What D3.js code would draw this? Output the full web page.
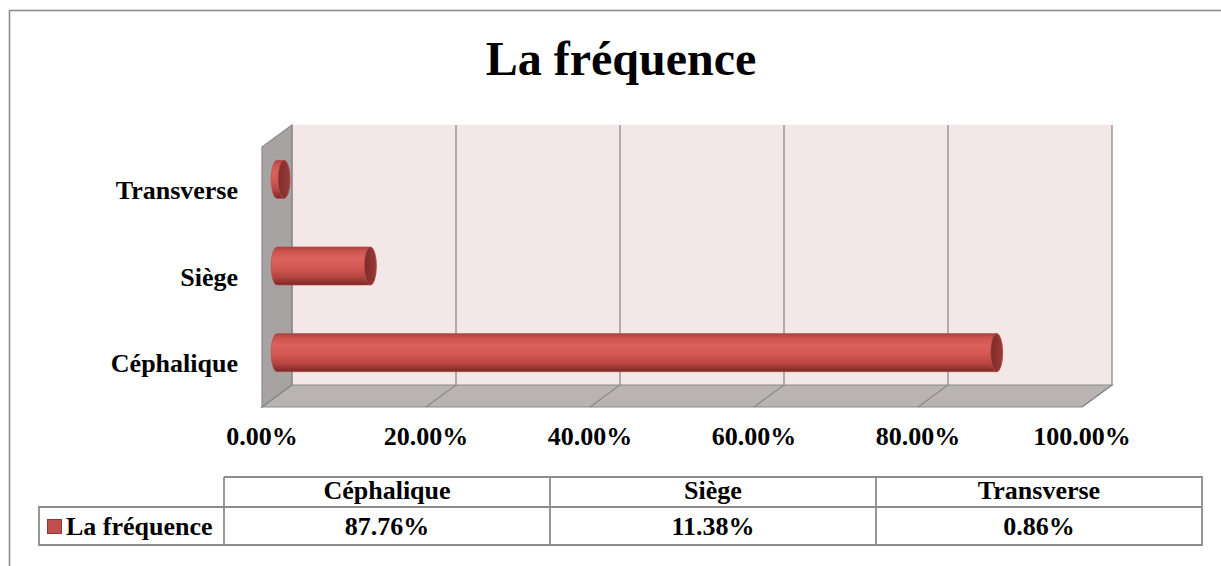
<!DOCTYPE html>
<html>
<head>
<meta charset="utf-8">
<script src="https://cdn.jsdelivr.net/npm/d3@7"></script>
<style>
  body { margin: 0; background: #fff; }
  svg text { font-family: "Liberation Serif", "Times New Roman", serif; font-weight: bold; fill: #000; }
</style>
</head>
<body>
<div id="chart"></div>
<script>
// chart data
var title = "La fréquence";
var seriesName = "La fréquence";
var categories = ["Céphalique", "Siège", "Transverse"];
var values = [87.76, 11.38, 0.86];
var valueLabels = ["87.76%", "11.38%", "0.86%"];
var tickValues = [0, 20, 40, 60, 80, 100];

var width = 1221, height = 566;

var svg = d3.select("#chart").append("svg")
    .attr("width", width)
    .attr("height", height);

// outer chart border (runs off the right and bottom of the picture)
svg.append("rect")
    .attr("x", 9.5).attr("y", 10.5)
    .attr("width", 1230).attr("height", 600)
    .attr("fill", "none")
    .attr("stroke", "#8c8c8c")
    .attr("stroke-width", 1.6);

svg.append("text")
    .attr("x", 621).attr("y", 75)
    .attr("text-anchor", "middle")
    .style("font-size", "48px")
    .text(title);

// 3d depth offset: back wall -> front edge
var dx = -30, dy = 22;
var wallTop = 125, wallBottom = 385;

var x = d3.scaleLinear().domain([0, 100]).range([292, 1112]);
var y = d3.scaleBand()
    .domain(categories.slice().reverse())
    .range([wallTop, wallBottom])
    .paddingInner(0.56)
    .paddingOuter(0.28);

var defs = svg.append("defs");
var grad = defs.append("linearGradient")
    .attr("id", "cyl")
    .attr("x1", 0).attr("y1", 0).attr("x2", 0).attr("y2", 1);
[[0, "#a8403c"], [0.1, "#cc524e"], [0.3, "#dc615c"], [0.55, "#d35854"], [0.8, "#b3433f"], [1, "#7a2725"]]
  .forEach(function(s) {
    grad.append("stop").attr("offset", s[0]).attr("stop-color", s[1]);
  });
var capGrad = defs.append("linearGradient")
    .attr("id", "cap")
    .attr("x1", 0).attr("y1", 0).attr("x2", 1).attr("y2", 0);
capGrad.append("stop").attr("offset", 0).attr("stop-color", "#7e2c2a");
capGrad.append("stop").attr("offset", 1).attr("stop-color", "#983a37");

// back wall
svg.append("rect")
    .attr("x", x(0)).attr("y", wallTop)
    .attr("width", x(100) - x(0)).attr("height", wallBottom - wallTop)
    .attr("fill", "#f3e7e7");

// left wall
svg.append("path")
    .attr("d", "M" + x(0) + "," + wallTop + "L" + (x(0) + dx) + "," + (wallTop + dy) +
               "L" + (x(0) + dx) + "," + (wallBottom + dy) + "L" + x(0) + "," + wallBottom + "Z")
    .attr("fill", "#a7a3a3")
    .attr("stroke", "#8a8a8a")
    .attr("stroke-width", 1.2);

// floor
svg.append("path")
    .attr("d", "M" + x(0) + "," + wallBottom + "L" + x(100) + "," + wallBottom +
               "L" + (x(100) + dx) + "," + (wallBottom + dy) + "L" + (x(0) + dx) + "," + (wallBottom + dy) + "Z")
    .attr("fill", "#b9b3b3")
    .attr("stroke", "#8a8a8a")
    .attr("stroke-width", 1.2);

// gridlines on back wall and floor
var grid = svg.append("g").attr("stroke", "#8c8c8c").attr("stroke-width", 1.3).attr("fill", "none");
grid.selectAll("path")
    .data(tickValues)
  .enter().append("path")
    .attr("d", function(d) {
      return "M" + x(d) + "," + wallTop + "L" + x(d) + "," + wallBottom +
             "L" + (x(d) + dx) + "," + (wallBottom + dy);
    });

// tick labels on the front edge
svg.selectAll(".tick-label")
    .data(tickValues)
  .enter().append("text")
    .attr("class", "tick-label")
    .attr("x", function(d) { return x(d) + dx; })
    .attr("y", 445)
    .attr("text-anchor", "middle")
    .style("font-size", "26px")
    .text(function(d) { return d.toFixed(2) + "%"; });

// category labels, at front-plane band centres
svg.selectAll(".cat-label")
    .data(categories)
  .enter().append("text")
    .attr("class", "cat-label")
    .attr("x", 238)
    .attr("y", function(d) { return y(d) + y.bandwidth() / 2 + dy + 8.5; })
    .attr("text-anchor", "end")
    .style("font-size", "26px")
    .text(function(d) { return d; });

// cylinders at mid depth
var rx = 6;
var bars = svg.selectAll(".bar")
    .data(categories.map(function(c, i) { return { cat: c, value: values[i] }; }))
  .enter().append("g")
    .attr("class", "bar")
    .attr("transform", "translate(" + (dx / 2) + "," + (dy / 2) + ")");

bars.append("path")
    .attr("d", function(d) {
      var x0 = x(0), x1 = x(d.value), y0 = y(d.cat), h = y.bandwidth(), ry = h / 2;
      return "M" + x0 + "," + y0 + "L" + x1 + "," + y0 +
             "A" + rx + "," + ry + " 0 0 1 " + x1 + "," + (y0 + h) +
             "L" + x0 + "," + (y0 + h) +
             "A" + rx + "," + ry + " 0 0 1 " + x0 + "," + y0 + "Z";
    })
    .attr("fill", "url(#cyl)")
    .attr("stroke", "#b0504c")
    .attr("stroke-width", 0.6);

bars.append("ellipse")
    .attr("cx", function(d) { return x(d.value); })
    .attr("cy", function(d) { return y(d.cat) + y.bandwidth() / 2; })
    .attr("rx", rx)
    .attr("ry", y.bandwidth() / 2)
    .attr("fill", "url(#cap)")
    .attr("stroke", "#b5524e")
    .attr("stroke-width", 0.6);

// data table
var col = d3.scaleBand().domain(categories).range([224, 1202]);
var row1 = 477, row2 = 507, row3 = 545, legendLeft = 39;

var table = svg.append("g")
    .attr("fill", "none")
    .attr("stroke", "#8c8c8c")
    .attr("stroke-width", 1.8);
table.append("path")
    .attr("d", "M" + col.range()[0] + "," + row1 + "H" + col.range()[1] + "V" + row3 +
               "H" + legendLeft + "V" + row2 + "H" + col.range()[1] +
               "M" + col.range()[0] + "," + row1 + "V" + row3);
table.selectAll(".div")
    .data(categories.slice(1))
  .enter().append("path")
    .attr("d", function(d) { return "M" + col(d) + "," + row1 + "V" + row3; });

svg.selectAll(".head")
    .data(categories)
  .enter().append("text")
    .attr("x", function(d) { return col(d) + col.bandwidth() / 2; })
    .attr("y", 499)
    .attr("text-anchor", "middle")
    .style("font-size", "26px")
    .text(function(d) { return d; });

svg.selectAll(".val")
    .data(valueLabels)
  .enter().append("text")
    .attr("x", function(d, i) { return col(categories[i]) + col.bandwidth() / 2; })
    .attr("y", 535)
    .attr("text-anchor", "middle")
    .style("font-size", "26px")
    .text(function(d) { return d; });

// legend key
svg.append("rect")
    .attr("x", 47.5).attr("y", 519.5)
    .attr("width", 14).attr("height", 14)
    .attr("fill", "#c0504d")
    .attr("stroke", "#8c3836")
    .attr("stroke-width", 1);
svg.append("text")
    .attr("x", 66).attr("y", 535)
    .style("font-size", "26px")
    .text(seriesName);
</script>
</body>
</html>
